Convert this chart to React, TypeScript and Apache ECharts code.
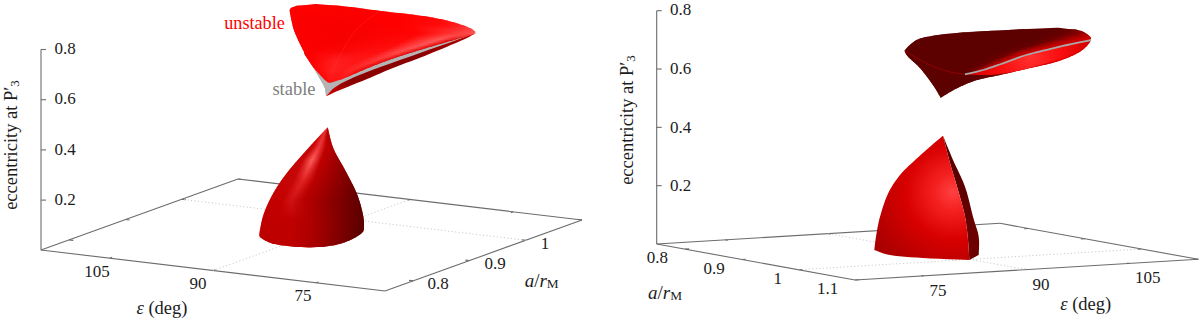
import React, { useEffect, useRef } from "react";
import * as echarts from "echarts";

// ---------- axis values ----------
const epsTicks = [75, 90, 105];
const aTicksL = [0.8, 0.9, 1, 1.1];
const zTicks = [0.2, 0.4, 0.6, 0.8];
const epsRange = [65, 115];
const aRange = [0.75, 1.1];
const zRange = [0, 0.8];
const gridEps = [90];
const gridA = [1];

type P = number[];
const panelA = { o: [385, 291], e: [41, 250], a: [582, 220], z0: 250.3, zTop: 49.5, zx: 41 };
const panelB = { o: [656.7, 244], e: [1000, 223.3], a: [855, 280], z0: 244, zTop: 10.7, zx: 656.7 };
const projA = (eps: number, a: number): P => {
  const u = (eps - epsRange[0]) / (epsRange[1] - epsRange[0]);
  const v = (a - aRange[0]) / (aRange[1] - aRange[0]);
  return [
    panelA.o[0] + u * (panelA.e[0] - panelA.o[0]) + v * (panelA.a[0] - panelA.o[0]),
    panelA.o[1] + u * (panelA.e[1] - panelA.o[1]) + v * (panelA.a[1] - panelA.o[1]),
  ];
};
const projB = (eps: number, a: number): P => {
  const u = (eps - epsRange[0]) / (epsRange[1] - epsRange[0]);
  const v = (a - aRange[0]) / (aRange[1] - aRange[0]);
  return [
    panelB.o[0] + u * (panelB.e[0] - panelB.o[0]) + v * (panelB.a[0] - panelB.o[0]),
    panelB.o[1] + u * (panelB.e[1] - panelB.o[1]) + v * (panelB.a[1] - panelB.o[1]),
  ];
};

// ---------- surface outlines, split at sharp corners ----------
const coneALeft: P[] = [[327.7,127.3],[306.7,150],[286.7,173.3],[273.3,193.3],[264,213.3],[260,230],[259.3,237]];
const coneABottom: P[] = [[259.3,237],[273.3,244],[300,247.3],[326.7,246.7],[346.7,241.7],[361.7,233.3],[364,226.7],[362.7,213.3],[356.7,193.3],[345,170],[333.3,148.3],[327.7,127.3]];

const upperATop: P[] = [[289.3,9],[298,5.2],[320,4],[353,7.3],[380,11],[420,15.5],[447,20.5],[467,26.7],[474,30.5],[475.5,33],[473,34.5],[447,42],[420,50],[393,58.5],[367,68.5],[340,80],[328,82.5]];
const upperALeft: P[] = [[328,82.5],[313,67],[303,50],[295,33],[292,23],[289.3,9]];
const crease: P[] = [[331,75],[345,46],[360,26],[380,11]];
const undersideA: P[] = [[475.5,33],[467,38],[447,46.7],[420,57.7],[393,68],[367,79],[340,90],[326.5,96]];
const undersideAUp: P[] = [[326.5,96],[325,88],[316,70],[305,52],[345,70],[420,48],[475.5,33]];
const greyA1: P[] = [[303,50],[315,68],[328,82],[340,78.5],[367,67.5],[420,49.5],[470,35],[420,53],[367,72],[345,81.5],[334,88],[326.5,95],[325,88]];

const coneBLeft: P[] = [[943,135.7],[930,146.7],[913.3,161.7],[900,175],[888.3,193],[880,216.7],[876,236.7],[874.3,250]];
const coneBBottom: P[] = [[874.3,250],[890,255],[923,258],[969.3,260]];
const coneBEdge: P[] = [[969.3,260],[968,240],[965,216.7],[958,190],[950,163],[943,135.7]];
const coneBFaceOut: P[] = [[943,135.7],[953,160],[965,186.7],[973,216.7],[978.7,236.7],[978.7,255]];
const coneBFaceBottom: P[] = [[978.7,255],[969.3,260]];

const upperBTop: P[] = [[904.3,50.7],[911.7,43.3],[923,37.5],[957,32.7],[1007,30],[1057,27.7],[1077,29.5],[1087,34],[1091,40],[1080,51.7],[1056.7,61.7],[1030,68],[1000,75],[976.7,80],[956.7,88.3],[940.7,97.7]];
const upperBLeft: P[] = [[940.7,97.7],[933,85],[920,68],[908,56.7],[904.3,50.7]];
const stripeB: P[] = [[965,74.3],[983,70],[1003,63.3],[1023,56],[1043,50.7],[1067,45],[1091,40]];
const lensBLow: P[] = [[1091,40],[1083,48],[1067,56.7],[1040,65],[1013,71.7],[990,75],[965,74.3]];
const rimB: P[] = [[904.3,50.7],[930,65],[950,72],[965,74.3]];

// ---------- shading rows: y, then five [x, colour] stops ----------
type Row = [number, [number, string][]];
const shadeConeA: Row[] = [
  [128, [[310,"#c00000"],[322,"#c80000"],[326.5,"#e83030"],[328,"#b00000"],[345,"#900000"]]],
  [147, [[300,"#c00000"],[313,"#c80808"],[319,"#f03838"],[326,"#c00000"],[345,"#900000"]]],
  [160, [[285,"#c00000"],[303,"#c80808"],[312,"#ff5c5c"],[321,"#c00000"],[350,"#800000"]]],
  [180, [[270,"#c00000"],[294,"#c80808"],[303,"#e52525"],[314,"#bc0000"],[358,"#680000"]]],
  [200, [[262,"#c00000"],[282,"#c40000"],[291,"#d01212"],[304,"#b80000"],[362,"#5c0000"]]],
  [220, [[258,"#c00000"],[278,"#c00000"],[290,"#c00000"],[310,"#b00000"],[366,"#560000"]]],
  [248, [[258,"#b80000"],[278,"#bc0000"],[295,"#bc0000"],[315,"#a80000"],[366,"#520000"]]],
];
const shadeUpperA: Row[] = [
  [4, [[289,"#ff0000"],[340,"#fd0000"],[380,"#ff0000"],[420,"#ff0000"],[476,"#ff0000"]]],
  [25, [[289,"#fb0000"],[340,"#f80000"],[400,"#ff0000"],[445,"#ff0c0c"],[470,"#ff3030"]]],
  [33, [[292,"#fb0000"],[345,"#f80000"],[420,"#ff0404"],[458,"#ff3c3c"],[476,"#ff5555"]]],
  [40, [[297,"#fb0000"],[345,"#f80000"],[405,"#ff0808"],[438,"#ff5a5a"],[454,"#e00000"]]],
  [50, [[303,"#fb0000"],[340,"#fa0404"],[385,"#ff1010"],[405,"#ff5050"],[421,"#e00000"]]],
  [60, [[310,"#fc0000"],[335,"#ff1c1c"],[360,"#ff1414"],[377,"#ff3838"],[391,"#e00000"]]],
  [70, [[318,"#ff0808"],[332,"#ff2020"],[342,"#ff1a1a"],[352,"#ff2626"],[365,"#e80000"]]],
  [83, [[326,"#ff0000"],[328,"#ff1010"],[332,"#ff1010"],[338,"#ff1010"],[342,"#ee0000"]]],
];
const shadeUpperB: Row[] = [
  [28, [[1000,"#5c0000"],[1040,"#5c0000"],[1060,"#600000"],[1075,"#6a0000"],[1080,"#700000"]]],
  [34, [[930,"#5c0000"],[1040,"#5c0000"],[1062,"#660000"],[1078,"#8c0000"],[1088,"#b00000"]]],
  [40, [[905,"#5c0000"],[1030,"#5c0000"],[1050,"#6c0000"],[1070,"#b80000"],[1091,"#e00000"]]],
  [46, [[910,"#5c0000"],[1010,"#5c0000"],[1030,"#680000"],[1045,"#b00000"],[1060,"#d80000"]]],
  [52, [[920,"#5c0000"],[995,"#5c0000"],[1010,"#680000"],[1025,"#b80000"],[1040,"#e00000"]]],
  [60, [[930,"#5c0000"],[980,"#5c0000"],[995,"#6c0000"],[1005,"#c00000"],[1020,"#e00000"]]],
  [70, [[940,"#5c0000"],[960,"#5c0000"],[970,"#600000"],[980,"#a00000"],[995,"#d00000"]]],
  [76, [[940,"#5c0000"],[960,"#5c0000"],[970,"#5c0000"],[980,"#5c0000"],[995,"#5c0000"]]],
  [98, [[940,"#5c0000"],[960,"#5c0000"],[970,"#5c0000"],[980,"#5c0000"],[995,"#5c0000"]]],
];

// ---------- painter helpers ----------
const smooth = (pts: P[]): P[] => {
  const out: P[] = [];
  for (let i = 0; i < pts.length - 1; i++) {
    const p0 = pts[Math.max(i - 1, 0)], p1 = pts[i], p2 = pts[i + 1], p3 = pts[Math.min(i + 2, pts.length - 1)];
    for (let k = 0; k < 6; k++) {
      const t = k / 6, t2 = t * t, t3 = t2 * t;
      out.push([0, 1].map((d) => 0.5 * (2 * p1[d] + (p2[d] - p0[d]) * t + (2 * p0[d] - 5 * p1[d] + 4 * p2[d] - p3[d]) * t2 + (3 * p1[d] - p0[d] - 3 * p2[d] + p3[d]) * t3)));
    }
  }
  out.push(pts[pts.length - 1]);
  return out;
};
const closed = (...segs: P[][]) => segs.flatMap((s) => smooth(s));
const stopsOf = (s: [number, string][]) => s.map(([offset, color]) => ({ offset, color }));
const lin = (x0: number, y0: number, x1: number, y1: number, s: [number, string][]) =>
  new echarts.graphic.LinearGradient(x0, y0, x1, y1, stopsOf(s), true);
const rad = (x: number, y: number, r: number, s: [number, string][]) =>
  new echarts.graphic.RadialGradient(x, y, r, stopsOf(s), true);
const hex = (c: string) => [1, 3, 5].map((i) => parseInt(c.slice(i, i + 2), 16));
const mixHex = (a: string, b: string, t: number) => {
  const A = hex(a), B = hex(b);
  return `rgb(${A.map((v, i) => Math.round(v + (B[i] - v) * t)).join(",")})`;
};
const span = (poly: P[], y: number): number[] | null => {
  let lo = Infinity, hi = -Infinity;
  for (let i = 0; i < poly.length; i++) {
    const a = poly[i], b = poly[(i + 1) % poly.length];
    if ((a[1] <= y && b[1] > y) || (b[1] <= y && a[1] > y)) {
      const x = a[0] + ((y - a[1]) / (b[1] - a[1])) * (b[0] - a[0]);
      lo = Math.min(lo, x); hi = Math.max(hi, x);
    }
  }
  return lo < hi ? [lo, hi] : null;
};
type Surf = { pts: P[]; fill: any; line?: boolean; w?: number };
// paint an outline in thin rows, each with its own left-to-right gradient
const shaded = (poly: P[], rows: Row[], step = 1.5): Surf[] => {
  const ys = poly.map((p) => p[1]);
  const y0 = Math.min(...ys), y1 = Math.max(...ys);
  const out: Surf[] = [];
  for (let y = y0 + 0.01; y < y1; y += step) {
    const y2 = Math.min(y + step + 1.2, y1 - 0.01);
    const a = span(poly, y), b = span(poly, y2);
    if (!a || !b) continue;
    const ym = y + step / 2;
    let k = 0;
    while (k < rows.length - 2 && rows[k + 1][0] < ym) k++;
    const t = Math.max(0, Math.min(1, (ym - rows[k][0]) / (rows[k + 1][0] - rows[k][0])));
    const st = rows[k][1].map((s, i) => [s[0] + (rows[k + 1][1][i][0] - s[0]) * t, mixHex(s[1], rows[k + 1][1][i][1], t)] as [number, string]);
    const x0 = st[0][0], x1 = st[st.length - 1][0];
    out.push({
      pts: [[a[0], y], [a[1], y], [b[1], y2], [b[0], y2]],
      fill: lin(x0, 0, x1, 0, st.map(([x, c]) => [(x - x0) / (x1 - x0), c] as [number, string])),
    });
  }
  return out;
};

const surfaces: Surf[] = [
  ...shaded(closed(coneALeft, coneABottom), shadeConeA),
  { pts: closed(undersideA, undersideAUp), fill: lin(326, 90, 475, 40, [[0, "#d00000"], [0.15, "#8c0000"], [0.6, "#8a0000"], [1, "#b00000"]]) },
  { pts: closed(greyA1), fill: "#b4b4b4" },
  ...shaded(closed(upperATop, upperALeft), shadeUpperA),
  { pts: smooth(crease), fill: "rgba(255,70,70,0.3)", line: true, w: 0.8 },
  { pts: closed(coneBFaceOut, coneBFaceBottom, coneBEdge), fill: lin(950, 180, 985, 230, [[0, "#5a0000"], [1, "#6c0000"]]) },
  { pts: closed(coneBLeft, coneBBottom, coneBEdge), fill: rad(953, 192, 105, [[0, "#ff4040"], [0.18, "#f42020"], [0.45, "#d80000"], [0.8, "#b00000"], [1, "#a40000"]]) },
  ...shaded(closed(upperBTop, upperBLeft), shadeUpperB),
  { pts: closed(lensBLow, stripeB), fill: rad(1030, 57, 80, [[0, "#ff3030"], [0.35, "#fb1010"], [0.75, "#d80000"], [1, "#a80000"]]) },
  { pts: smooth(rimB), fill: "#a00000", line: true, w: 0.8 },
  { pts: smooth(stripeB), fill: "#a8a8a8", line: true, w: 1.8 },
];

// ---------- frame segments built from the axis values ----------
type Seg = { a: P; b: P; dotted?: boolean };
const frame = (p: typeof panelA, proj: (e: number, a: number) => P, tickE: number[], tickA: number[]) => {
  const segs: Seg[] = [];
  const [e0, e1] = epsRange, [a0, a1] = aRange;
  const c = [proj(e0, a0), proj(e1, a0), proj(e1, a1), proj(e0, a1)];
  for (let i = 0; i < 4; i++) segs.push({ a: c[i], b: c[(i + 1) % 4] });
  segs.push({ a: [p.zx, p.z0], b: [p.zx, p.zTop] });
  zTicks.forEach((z) => {
    const y = p.z0 + ((p.zTop - p.z0) * (z - zRange[0])) / (zRange[1] - zRange[0]);
    segs.push({ a: [p.zx, y], b: [p.zx + 5, y] });
  });
  const frac = 0.012;
  tickE.forEach((e) => {
    [a0, a1].forEach((a) => {
      const s = a === a0 ? 1 : -1;
      segs.push({ a: proj(e, a), b: proj(e, a + s * 0.35 * frac) });
    });
  });
  tickA.forEach((a) => {
    [e0, e1].forEach((e) => {
      const s = e === e0 ? 1 : -1;
      segs.push({ a: proj(e, a), b: proj(e + s * 50 * frac, a) });
    });
  });
  gridEps.forEach((e) => segs.push({ a: proj(e, a0), b: proj(e, a1), dotted: true }));
  gridA.forEach((a) => segs.push({ a: proj(e0, a), b: proj(e1, a), dotted: true }));
  return segs;
};
const segments: Seg[] = [
  ...frame(panelA, projA, epsTicks, aTicksL),
  ...frame(panelB, projB, epsTicks, aTicksL),
];

// ---------- texts ----------
const SERIF = "'Liberation Serif'";
const INK = "#1c1c1c";
const richAt = (size: number) => ({
  i: { fontStyle: "italic", fontFamily: SERIF, fontSize: size, color: INK },
  n: { fontFamily: SERIF, fontSize: size, color: INK },
  s: { fontFamily: SERIF, fontSize: size * 0.7, color: INK, verticalAlign: "bottom", padding: [7, 0, 0, 0] },
});
const yLabel = "{n|eccentricity at P′}{s|3}";
const epsLabel = "{i|ε} {n|(deg)}";
const ratioLabel = "{i|a}{n|/}{i|r}{s|M}";
const labels: { t: string; x: number; y: number; rot?: number; fill?: string; size?: number }[] = [
  ...[[0.8, 48], [0.6, 98.7], [0.4, 149], [0.2, 199]].map(([v, y]) => ({ t: v.toFixed(1), x: 65, y })),
  { t: "105", x: 97, y: 271.7 }, { t: "90", x: 198, y: 283 }, { t: "75", x: 303, y: 295 },
  { t: "0.8", x: 438, y: 283 }, { t: "0.9", x: 495, y: 263 }, { t: "1", x: 545, y: 243 },
  { t: yLabel, x: 11, y: 145, rot: Math.PI / 2, size: 18.5 },
  { t: epsLabel, x: 162, y: 308, size: 18.5 },
  { t: ratioLabel, x: 541.7, y: 280, size: 19 },
  { t: "unstable", x: 254.5, y: 23, fill: "#ff0000", size: 18.2 },
  { t: "stable", x: 294, y: 89, fill: "#808080", size: 18.5 },
  ...[[0.8, 9], [0.6, 68], [0.4, 127], [0.2, 185]].map(([v, y]) => ({ t: v.toFixed(1), x: 680.5, y })),
  { t: "0.8", x: 657.3, y: 257.7 }, { t: "0.9", x: 714, y: 268 }, { t: "1", x: 777.7, y: 278 }, { t: "1.1", x: 827.7, y: 288 },
  { t: "75", x: 938, y: 290 }, { t: "90", x: 1041, y: 284 }, { t: "105", x: 1147.7, y: 277.7 },
  { t: yLabel, x: 627, y: 120, rot: Math.PI / 2, size: 18.5 },
  { t: epsLabel, x: 1085.7, y: 304, size: 18.5 },
  { t: ratioLabel, x: 665, y: 292, size: 19 },
];

export default function App() {
  const ref = useRef<HTMLDivElement>(null);
  useEffect(() => {
    const chart = echarts.init(ref.current!, undefined, { renderer: "svg" });
    chart.setOption({
      animation: false,
      backgroundColor: "#ffffff",
      grid: { left: 0, right: 0, top: 0, bottom: 0 },
      xAxis: { type: "value", min: 0, max: 1200, show: false },
      yAxis: { type: "value", min: 0, max: 319, inverse: true, show: false },
      series: [
        {
          type: "custom", silent: true, clip: false, z: 1,
          data: segments.map((_, i) => [i]),
          renderItem: (_: any, api: any) => {
            const s = segments[api.value(0)];
            const a = api.coord(s.a), b = api.coord(s.b);
            return {
              type: "line",
              shape: { x1: a[0], y1: a[1], x2: b[0], y2: b[1] },
              style: s.dotted
                ? { stroke: "#c4c4c4", lineWidth: 1, lineDash: [1, 2.5] }
                : { stroke: "#6c6c6c", lineWidth: 1.1 },
            };
          },
        },
        {
          type: "custom", silent: true, clip: false, z: 2,
          data: surfaces.map((_, i) => [i]),
          renderItem: (_: any, api: any) => {
            const s = surfaces[api.value(0)];
            const points = s.pts.map((p) => api.coord(p));
            return s.line
              ? { type: "polyline", shape: { points }, style: { stroke: s.fill, lineWidth: s.w, fill: "none" } }
              : { type: "polygon", shape: { points }, style: { fill: s.fill, stroke: "none" } };
          },
        },
        {
          type: "custom", silent: true, clip: false, z: 3,
          data: labels.map((_, i) => [i]),
          renderItem: (_: any, api: any) => {
            const l = labels[api.value(0)];
            const c = api.coord([l.x, l.y]);
            const size = l.size || 17;
            return {
              type: "text",
              x: c[0], y: c[1], rotation: l.rot || 0,
              style: {
                text: l.t, rich: richAt(size),
                fill: l.fill || INK,
                fontFamily: SERIF, fontSize: size,
                align: "center", verticalAlign: "middle",
              },
            };
          },
        },
      ],
    });
    return () => chart.dispose();
  }, []);
  return <div ref={ref} style={{ position: "absolute", left: 0, top: 0, width: 1200, height: 319 }} />;
}
